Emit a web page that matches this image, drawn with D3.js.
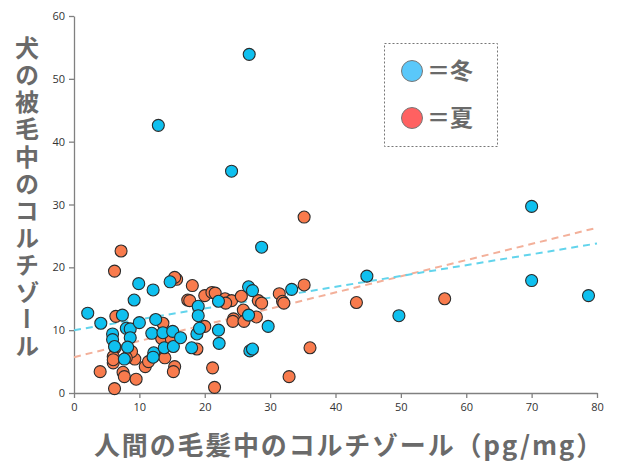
<!DOCTYPE html>
<html>
<head>
<meta charset="utf-8">
<script src="https://cdn.jsdelivr.net/npm/d3@7"></script>
<style>
  body { margin: 0; background: #fff; }
  .tick text { font-family: "Open Sans", sans-serif; font-size: 11px; fill: #333; }
  .axis path, .axis line { stroke: #808080; stroke-width: 1.3; }
  .title { font-family: "Noto Sans CJK JP", sans-serif; font-weight: bold; fill: #6a6a6a; }
</style>
</head>
<body>
<div id="chart"></div>
<script>
// Data: [human hair cortisol, dog coat cortisol]
var winter = [
  [2.1, 12.7], [4.1, 11.1], [5.9, 9.4], [5.9, 8.5], [6.2, 7.4], [7.4, 12.4], [7.7, 5.4],
  [8.0, 10.3], [8.6, 10.2], [8.6, 8.8], [8.2, 7.3], [9.2, 14.8], [9.9, 17.4], [10.0, 11.2],
  [12.1, 16.4], [12.5, 11.7], [11.9, 9.5], [12.2, 6.4], [12.1, 5.7], [13.6, 9.6], [13.8, 7.2],
  [14.7, 17.7], [15.1, 9.8], [15.2, 7.4], [16.3, 8.8], [18.0, 7.2], [18.8, 9.4], [19.0, 13.8],
  [19.0, 12.3], [19.2, 10.3], [22.1, 14.6], [22.1, 10.0], [22.2, 7.9], [26.7, 16.9], [27.3, 16.3],
  [26.7, 12.4], [29.7, 10.6], [26.9, 6.7], [27.3, 7.0], [28.7, 23.2], [33.3, 16.5], [24.1, 35.3],
  [12.9, 42.6], [26.8, 53.9], [44.8, 18.6], [49.7, 12.3], [70.0, 29.7], [70.0, 17.9], [78.7, 15.5]
];

var summer = [
  [7.2, 22.6], [6.2, 19.4], [6.4, 12.2], [6.3, 7.2], [6.0, 5.8], [6.0, 4.8], [4.0, 3.4],
  [7.5, 3.3], [7.7, 2.6], [6.2, 0.7], [9.3, 5.4], [9.5, 2.2], [8.8, 6.6], [10.9, 4.2],
  [11.4, 5.0], [15.7, 18.1], [15.4, 18.4], [18.1, 17.1], [17.4, 14.8], [17.7, 14.7], [20.0, 15.5],
  [21.1, 16.0], [13.6, 11.1], [13.4, 8.7], [14.9, 8.5], [13.9, 5.6], [15.4, 4.2], [15.2, 3.4],
  [18.8, 7.0], [21.2, 4.0], [21.5, 0.9], [20.0, 10.6], [21.6, 15.9], [23.1, 15.0], [24.1, 14.7],
  [25.6, 15.4], [28.2, 14.7], [28.7, 14.3], [31.4, 15.8], [31.9, 14.6], [25.9, 13.2], [24.4, 11.8],
  [24.3, 11.4], [26.0, 11.4], [27.9, 12.1], [23.2, 14.3], [35.2, 28.0], [35.2, 17.2], [32.1, 14.3],
  [36.1, 7.2], [32.9, 2.6], [43.2, 14.4], [56.7, 15.0], [6.0, 5.3], [8.0, 5.6]
];

// trend lines: y at x = 0 and x = 80
var trendWinter = [[0, 10.0], [80, 23.8]];
var trendSummer = [[0, 5.7], [80, 26.3]];

var xTicks = [0, 10, 20, 30, 40, 50, 60, 70, 80];
var yTicks = [0, 10, 20, 30, 40, 50, 60];

var svgWidth = 624;
var svgHeight = 474;
var margin = { top: 16, right: 27, bottom: 81, left: 74 };
var width = svgWidth - margin.left - margin.right;
var height = svgHeight - margin.top - margin.bottom;

var svg = d3.select("#chart")
  .append("svg")
  .attr("width", svgWidth)
  .attr("height", svgHeight);

var chartGroup = svg.append("g")
  .attr("transform", `translate(${margin.left}, ${margin.top})`);

var x = d3.scaleLinear().domain([0, 80]).range([0, width]);
var y = d3.scaleLinear().domain([0, 60]).range([height, 0]);

// axes
chartGroup.append("g")
  .attr("class", "axis")
  .attr("transform", `translate(0, ${height})`)
  .call(d3.axisBottom(x).tickValues(xTicks).tickSize(5).tickSizeOuter(0).tickPadding(5));

chartGroup.append("g")
  .attr("class", "axis")
  .call(d3.axisLeft(y).tickValues(yTicks).tickSize(5).tickSizeOuter(0).tickPadding(4));

// dashed trend lines (under the points)
var line = d3.line().x(d => x(d[0])).y(d => y(d[1]));
chartGroup.append("path")
  .attr("d", line(trendSummer))
  .attr("fill", "none")
  .attr("stroke", "#f3b09a")
  .attr("stroke-width", 2)
  .attr("stroke-dasharray", "7,5");
chartGroup.append("path")
  .attr("d", line(trendWinter))
  .attr("fill", "none")
  .attr("stroke", "#62d4ec")
  .attr("stroke-width", 2)
  .attr("stroke-dasharray", "7,5");

// points (summer under winter)
function drawPoints(data, fill) {
  chartGroup.append("g")
    .selectAll("circle")
    .data(data)
    .enter()
    .append("circle")
    .attr("cx", d => x(d[0]))
    .attr("cy", d => y(d[1]))
    .attr("r", 6)
    .attr("fill", fill)
    .attr("stroke", "#2b2b2b")
    .attr("stroke-width", 1.1);
}
drawPoints(summer, "#f87b4d");
drawPoints(winter, "#0fc0ef");

// legend
var legend = svg.append("g");
legend.append("rect")
  .attr("x", 384.5).attr("y", 43.5)
  .attr("width", 113).attr("height", 103)
  .attr("fill", "none")
  .attr("stroke", "#777")
  .attr("stroke-dasharray", "2,2");

var legendItems = [
  { label: "＝冬", color: "#5ac8fa", cy: 71 },
  { label: "＝夏", color: "#ff6161", cy: 118 }
];
legendItems.forEach(function (item) {
  legend.append("circle")
    .attr("cx", 412).attr("cy", item.cy).attr("r", 10.5)
    .attr("fill", item.color)
    .attr("stroke", "#777")
    .attr("stroke-width", 1);
  legend.append("text")
    .attr("class", "title")
    .attr("x", 427).attr("y", item.cy + 8)
    .attr("font-size", 23)
    .text(item.label);
});

// axis titles
svg.append("text")
  .attr("class", "title")
  .attr("x", 349)
  .attr("y", 455)
  .attr("text-anchor", "middle")
  .attr("font-size", 26)
  .style("letter-spacing", "1.8px")
  .text("人間の毛髪中のコルチゾール（pg/mg）");

svg.append("text")
  .attr("class", "title")
  .attr("x", 27)
  .attr("y", 36)
  .attr("font-size", 24)
  .style("writing-mode", "vertical-rl")
  .style("letter-spacing", "3.1px")
  .text("犬の被毛中のコルチゾール");
</script>
</body>
</html>
